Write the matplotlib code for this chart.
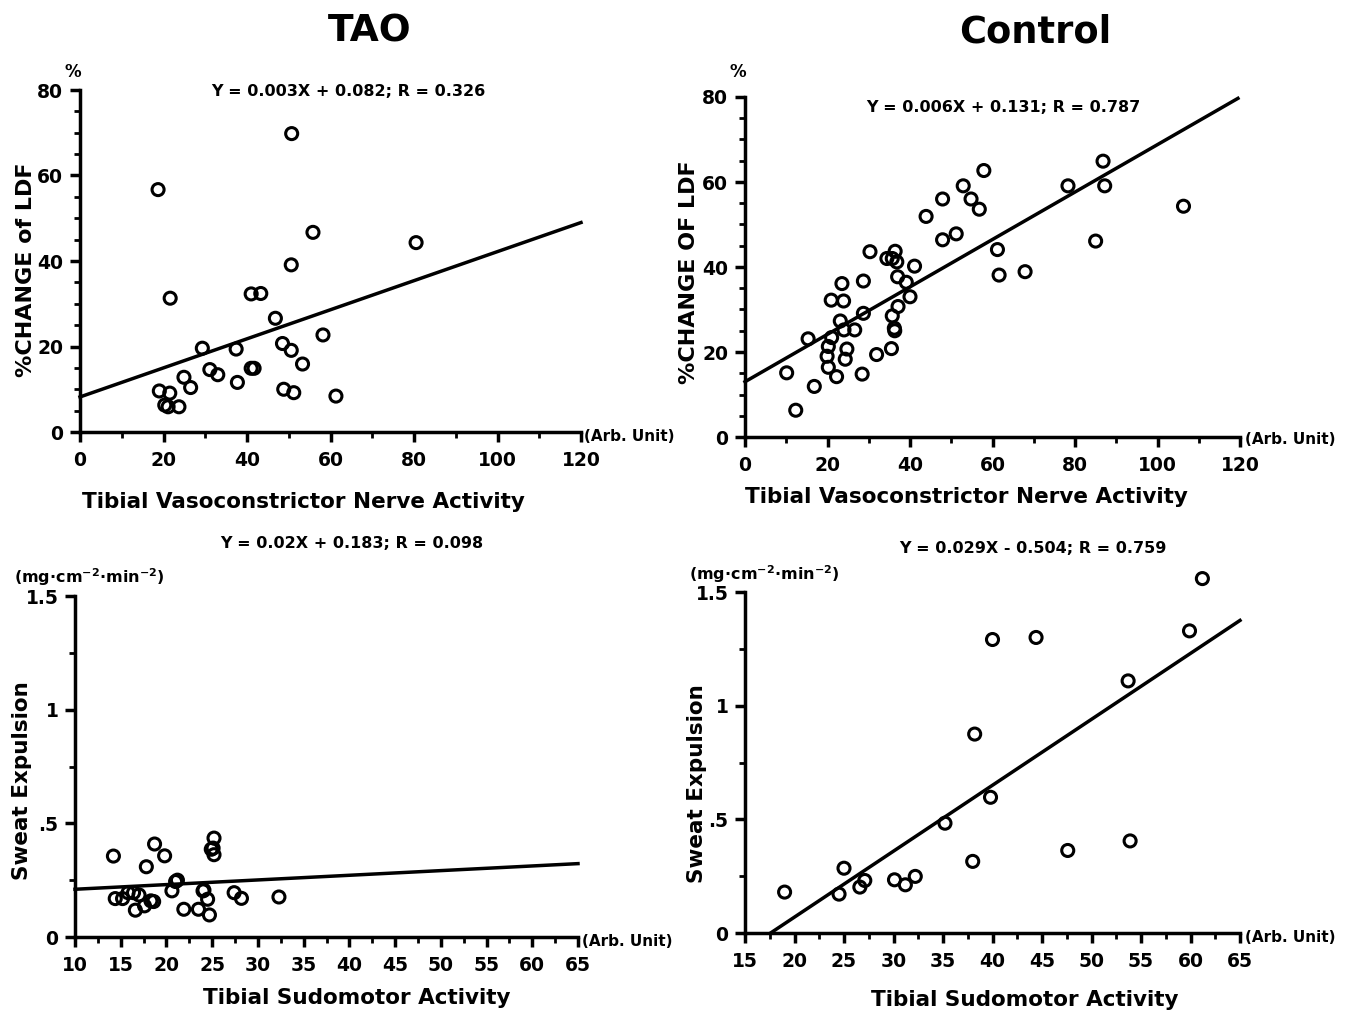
import numpy as np
import matplotlib.pyplot as plt
from matplotlib.ticker import MultipleLocator

# ---- data ----
tao_vc_x = [18.7, 50.7, 21.6, 55.8, 80.5, 50.6, 41.0, 43.3, 46.8, 58.2,
            29.3, 37.4, 48.5, 50.6, 53.3, 31.1, 33.0, 41.0, 41.7, 24.9,
            26.5, 37.7, 19.0, 21.5, 20.3, 21.1, 23.7, 48.8, 51.2, 61.3]
tao_vc_y = [56.7, 69.8, 31.3, 46.7, 44.3, 39.1, 32.3, 32.4, 26.6, 22.7,
            19.6, 19.4, 20.7, 19.1, 15.9, 14.6, 13.4, 14.9, 14.9, 12.8,
            10.4, 11.6, 9.6, 9.1, 6.3, 5.9, 5.9, 10.0, 9.2, 8.4]

ctl_vc_x = [10.1, 12.3, 16.8, 15.3, 19.9, 20.2, 20.2, 21.0, 20.9, 22.2,
            23.5, 23.9, 23.1, 24.0, 24.7, 24.3, 26.6, 28.4, 28.7, 28.7,
            30.3, 31.9, 34.4, 35.7, 36.4, 36.8, 37.0, 35.7, 36.2, 36.3,
            35.5, 37.1, 39.1, 40.0, 41.1, 43.9, 47.9, 47.9, 51.2, 52.9,
            54.8, 56.8, 57.9, 61.2, 61.6, 67.9, 78.3, 85.0, 86.8, 87.2,
            106.3]
ctl_vc_y = [15.1, 6.3, 11.9, 23.1, 19.0, 21.3, 16.4, 23.4, 32.2, 14.2,
            36.1, 32.0, 27.3, 25.2, 20.7, 18.3, 25.2, 14.8, 36.7, 29.1,
            43.6, 19.4, 42.0, 42.0, 43.7, 41.2, 37.7, 28.5, 25.6, 25.0,
            20.8, 30.7, 36.4, 33.0, 40.2, 51.9, 56.0, 46.4, 47.8, 59.1,
            56.0, 53.6, 62.7, 44.1, 38.1, 38.9, 59.1, 46.1, 64.9, 59.1,
            54.3]

tao_sm_x = [14.2, 14.4, 15.2, 15.8, 16.4, 16.6, 17.0, 17.8, 17.6, 18.3,
            18.6, 18.7, 19.8, 20.6, 21.0, 21.2, 21.9, 23.5, 24.0, 24.1,
            24.5, 24.7, 24.9, 25.1, 25.2, 25.2, 27.4, 28.2, 32.3]
tao_sm_y = [0.356, 0.169, 0.169, 0.195, 0.195, 0.118, 0.185, 0.309, 0.137, 0.159,
            0.156, 0.409, 0.357, 0.203, 0.244, 0.250, 0.122, 0.122, 0.203, 0.206,
            0.166, 0.097, 0.386, 0.391, 0.435, 0.362, 0.195, 0.170, 0.176]

ctl_sm_x = [19.0, 24.5, 25.0, 26.6, 27.1, 30.1, 31.2, 32.2, 35.2, 38.0,
            38.2, 39.8, 40.0, 44.4, 47.6, 53.7, 53.9, 59.9, 61.2]
ctl_sm_y = [0.180, 0.171, 0.285, 0.202, 0.231, 0.234, 0.212, 0.249, 0.483, 0.315,
            0.875, 0.597, 1.291, 1.300, 0.363, 1.109, 0.405, 1.329, 1.559]

# regression lines as drawn: (slope, intercept, x start, x end)
fit_tao_vc = (0.34, 8.2, 0, 120)
fit_ctl_vc = (0.558, 13.0, 0, 119.5)
fit_tao_sm = (0.00205, 0.1895, 10, 65)
fit_ctl_sm = (0.029, -0.51, 17.6, 65)

eq_text = ["Y = 0.003X + 0.082; R = 0.326", "Y = 0.006X + 0.131; R = 0.787",
           "Y = 0.02X + 0.183; R = 0.098", "Y = 0.029X - 0.504; R = 0.759"]
sweat_ticks = [0, 0.5, 1, 1.5]
sweat_labels = ['0', '.5', '1', '1.5']

plt.rcParams['font.family'] = ['DejaVu Sans']
plt.rcParams['font.weight'] = 'bold'
plt.rcParams['mathtext.default'] = 'regular'

W, H = 1345, 1013
fig = plt.figure(figsize=(W / 100, H / 100), dpi=100)


def rect(l, r, t, b):
    return [l / W, 1 - b / H, (r - l) / W, (b - t) / H]


def ftext(x, y, s, **kw):
    fig.text(x / W, 1 - y / H, s, **kw)


def panel(r, xs, ys, fit, xlim, ylim, xmaj, xmin, ymaj, ymin, sweat=False):
    ax = fig.add_axes(r)
    ax.scatter(xs, ys, s=75, facecolors='none', edgecolors='black',
               linewidths=2.2, clip_on=False, zorder=3)
    k, b, x0, x1 = fit
    lx = np.array([x0, x1])
    ax.plot(lx, k * lx + b, color='black', lw=2.5, clip_on=False)
    for s in ['top', 'right']:
        ax.spines[s].set_visible(False)
    for s in ['left', 'bottom']:
        ax.spines[s].set_linewidth(2.5)
    ax.xaxis.set_major_locator(MultipleLocator(xmaj))
    ax.xaxis.set_minor_locator(MultipleLocator(xmin))
    ax.yaxis.set_major_locator(MultipleLocator(ymaj))
    ax.yaxis.set_minor_locator(MultipleLocator(ymin))
    if sweat:
        ax.set_yticks(sweat_ticks, sweat_labels)
    ax.tick_params(which='major', length=7, width=2.5, labelsize=13.5, pad=7)
    ax.tick_params(axis='y', which='major', pad=5)
    ax.tick_params(which='minor', length=4, width=2)
    ax.set_xlim(*xlim)
    ax.set_ylim(*ylim)
    return ax


panel(rect(80, 581, 90, 432), tao_vc_x, tao_vc_y, fit_tao_vc,
      (0, 120), (0, 80), 20, 10, 20, 5)
panel(rect(745, 1240, 97, 437), ctl_vc_x, ctl_vc_y, fit_ctl_vc,
      (0, 120), (0, 80), 20, 10, 20, 5)
panel(rect(75, 578, 596, 937), tao_sm_x, tao_sm_y, fit_tao_sm,
      (10, 65), (0, 1.5), 5, 2.5, 0.5, 0.25, sweat=True)
panel(rect(745, 1240, 592, 933), ctl_sm_x, ctl_sm_y, fit_ctl_sm,
      (15, 65), (0, 1.5), 5, 2.5, 0.5, 0.25, sweat=True)

# titles
ftext(370, 32, "TAO", fontsize=27, ha='center', va='center')
ftext(1035, 32, "Control", fontsize=26.5, ha='center', va='center')

# equations
for (x, y), s in zip([(348, 91), (1003, 108), (352, 543), (1033, 548)], eq_text):
    ftext(x, y, s, fontsize=11.5, ha='center', va='center')

# y labels
ftext(26, 270, "%CHANGE of LDF", fontsize=16, rotation=90, ha='center', va='center')
ftext(689, 272, "%CHANGE OF LDF", fontsize=16, rotation=90, ha='center', va='center')
ftext(22, 781, "Sweat Expulsion", fontsize=15.5, rotation=90, ha='center', va='center')
ftext(697, 784, "Sweat Expulsion", fontsize=15.5, rotation=90, ha='center', va='center')

# units
ftext(73, 72, "%", fontsize=12, ha='center', va='center')
ftext(738, 72, "%", fontsize=12, ha='center', va='center')
unit = "(mg$\\cdot$cm$^{-2}$$\\cdot$min$^{-2}$)"
ftext(89, 577, unit, fontsize=11.5, ha='center', va='center')
ftext(764, 574, unit, fontsize=11.5, ha='center', va='center')
for x, y in [(584, 436), (1245, 440), (582, 941), (1245, 937)]:
    ftext(x, y, "(Arb. Unit)", fontsize=11, ha='left', va='center')

# x labels
ftext(303, 502, "Tibial Vasoconstrictor Nerve Activity", fontsize=15.5, ha='center', va='center')
ftext(966, 497, "Tibial Vasoconstrictor Nerve Activity", fontsize=15.5, ha='center', va='center')
ftext(357, 998, "Tibial Sudomotor Activity", fontsize=15.5, ha='center', va='center')
ftext(1025, 1000, "Tibial Sudomotor Activity", fontsize=15.5, ha='center', va='center')

fig.savefig("out.png", dpi=100)
